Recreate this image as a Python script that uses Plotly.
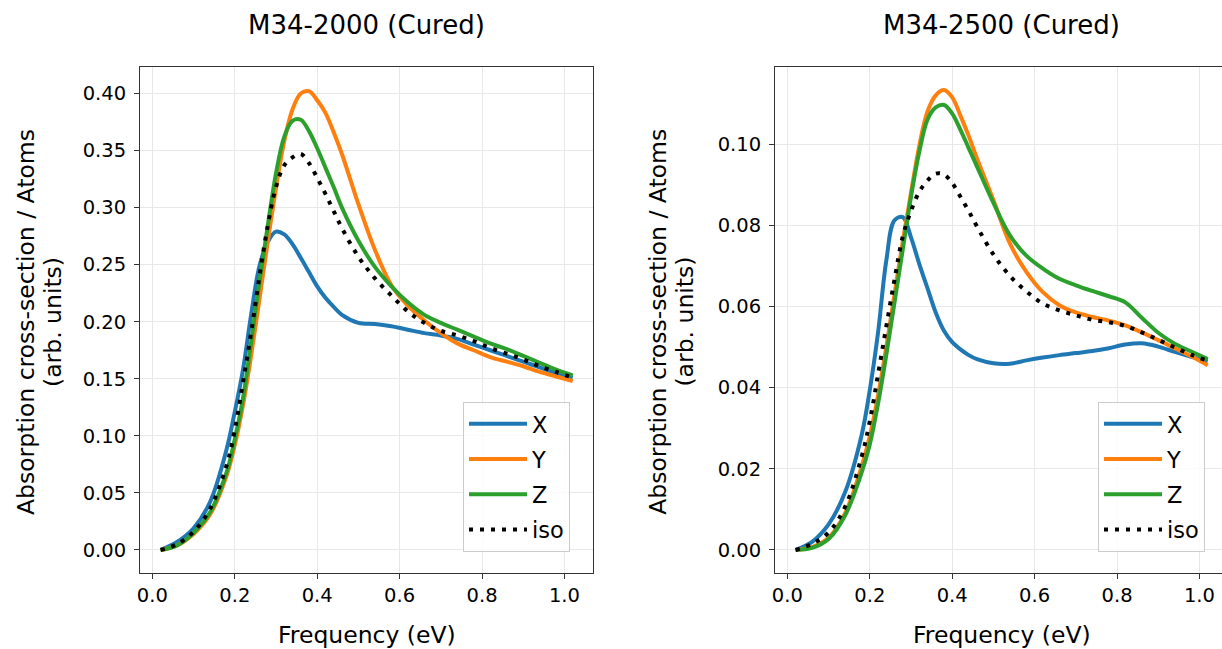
import plotly.graph_objects as go

# ---------------- data ----------------
freq = [0.02, 0.06, 0.10, 0.14, 0.18, 0.20, 0.22, 0.24, 0.26, 0.28, 0.30,
        0.32, 0.34, 0.36, 0.38, 0.40, 0.42, 0.44, 0.46, 0.50, 0.54, 0.58,
        0.62, 0.66, 0.70, 0.74, 0.78, 0.82, 0.86, 0.90, 0.94, 0.98, 1.02]

# M34-2000 (Cured)
m2000_x = [0.000, 0.007, 0.019, 0.042, 0.088, 0.121, 0.158, 0.207, 0.249, 0.270, 0.279,
           0.2765, 0.268, 0.256, 0.2435, 0.231, 0.221, 0.213, 0.206, 0.199, 0.198, 0.196,
           0.193, 0.190, 0.188, 0.185, 0.180, 0.175, 0.170, 0.165, 0.160, 0.155, 0.151]
m2000_y = [0.000, 0.004, 0.014, 0.031, 0.065, 0.092, 0.127, 0.171, 0.220, 0.270, 0.317,
           0.358, 0.386, 0.400, 0.402, 0.394, 0.383, 0.366, 0.347, 0.303, 0.263, 0.232,
           0.214, 0.201, 0.190, 0.181, 0.175, 0.169, 0.165, 0.161, 0.156, 0.152, 0.148]
m2000_z = [0.000, 0.004, 0.015, 0.033, 0.068, 0.097, 0.133, 0.183, 0.235, 0.284, 0.330,
           0.362, 0.376, 0.377, 0.367, 0.352, 0.335, 0.318, 0.300, 0.271, 0.248, 0.231,
           0.217, 0.206, 0.199, 0.193, 0.187, 0.181, 0.176, 0.170, 0.164, 0.158, 0.153]
m2000_iso = [0.000, 0.005, 0.016, 0.036, 0.074, 0.105, 0.147, 0.191, 0.240, 0.284, 0.318,
             0.337, 0.344, 0.347, 0.339, 0.326, 0.312, 0.297, 0.282, 0.257, 0.238, 0.223,
             0.209, 0.199, 0.192, 0.188, 0.183, 0.177, 0.172, 0.167, 0.161, 0.156, 0.151]

# M34-2500 (Cured)
m2500_x = [0.0000, 0.0020, 0.0063, 0.0142, 0.0282, 0.0394, 0.0535, 0.0712, 0.0812, 0.0820, 0.0770,
           0.0705, 0.0645, 0.0585, 0.0540, 0.0512, 0.0494, 0.0480, 0.0470, 0.0460, 0.0459, 0.0467,
           0.0474, 0.0480, 0.0485, 0.0490, 0.0497, 0.0506, 0.0509, 0.0501, 0.0488, 0.0476, 0.0465]
m2500_y = [0.0000, 0.0007, 0.0030, 0.0090, 0.0205, 0.0280, 0.0380, 0.0500, 0.0630, 0.0760, 0.0880,
           0.0995, 0.1080, 0.1120, 0.1133, 0.1115, 0.1070, 0.1020, 0.0965, 0.0862, 0.0755, 0.0685,
           0.0635, 0.0603, 0.0585, 0.0574, 0.0565, 0.0553, 0.0536, 0.0517, 0.0497, 0.0477, 0.0455]
m2500_z = [0.0000, 0.0005, 0.0027, 0.0085, 0.0190, 0.0260, 0.0360, 0.0480, 0.0610, 0.0740, 0.0870,
           0.0980, 0.1060, 0.1090, 0.1096, 0.1075, 0.1035, 0.0990, 0.0945, 0.0855, 0.0775, 0.0725,
           0.0693, 0.0668, 0.0652, 0.0638, 0.0625, 0.0610, 0.0572, 0.0535, 0.0508, 0.0489, 0.0470]
m2500_iso = [0.0000, 0.0015, 0.0043, 0.0106, 0.0229, 0.0317, 0.0432, 0.0550, 0.0666, 0.0772, 0.0835,
             0.0882, 0.0910, 0.0927, 0.0925, 0.0904, 0.0870, 0.0835, 0.0797, 0.0728, 0.0675, 0.0637,
             0.0607, 0.0590, 0.0578, 0.0567, 0.0561, 0.0552, 0.0536, 0.0518, 0.0499, 0.0481, 0.0466]

series_names = ["X", "Y", "Z", "iso"]
panel_titles = ["M34-2000 (Cured)", "M34-2500 (Cured)"]
x_label = "Frequency (eV)"
y_label_lines = ["Absorption cross-section / Atoms", "(arb. units)"]
x_ticks = [0.0, 0.2, 0.4, 0.6, 0.8, 1.0]
y_ticks_left = [0.00, 0.05, 0.10, 0.15, 0.20, 0.25, 0.30, 0.35, 0.40]
y_ticks_right = [0.00, 0.02, 0.04, 0.06, 0.08, 0.10]

# ---------------- styling ----------------
FONT = "DejaVu Sans"
colors = ["#1f77b4", "#ff7f0e", "#2ca02c", "#000000"]
dashes = ["solid", "solid", "solid", "4px,7px"]
LW = 4

fig = go.Figure()

panels = [
    (("x", "y", "legend"), [m2000_x, m2000_y, m2000_z, m2000_iso], "a"),
    (("x2", "y2", "legend2"), [m2500_x, m2500_y, m2500_z, m2500_iso], "b"),
]
for (xa, ya, lg), data, tag in panels:
    for name, vals, col, dash in zip(series_names, data, colors, dashes):
        fig.add_trace(go.Scatter(
            x=freq, y=vals, name=name, mode="lines",
            line=dict(color=col, width=LW, dash=dash, shape="spline", smoothing=1.0),
            xaxis=xa, yaxis=ya, legend=lg, legendgroup=tag + name,
            hoverinfo="skip",
        ))

W, H = 1222, 649
ML, MR, MT, MB = 140, 0, 67, 76
PW = W - ML - MR
PH = H - MT - MB


def px_x(p):
    return (p - ML) / PW


def px_y(p):
    return (H - MB - p) / PH


axis_common = dict(
    showline=True, linecolor="#333333", linewidth=1,
    ticks="outside", ticklen=5, tickwidth=1, tickcolor="#333333",
    showgrid=True, gridcolor="#e8e8e8", gridwidth=1,
    zeroline=False,
    tickfont=dict(family=FONT, size=19.5, color="black"),
)

left_dom = [0.0, px_x(593.3)]
right_dom = [px_x(775.0), 1.0]
unit_px = (593.3 - 140.0) / 1.10   # pixels per eV
right_max = -0.03 + (W - 775.0) / unit_px

fig.update_layout(
    width=W, height=H,
    margin=dict(l=ML, r=MR, t=MT, b=MB),
    paper_bgcolor="white", plot_bgcolor="white",
    font=dict(family=FONT, color="black"),
    showlegend=True,
    xaxis=dict(domain=left_dom, range=[-0.03, 1.07], tickvals=x_ticks,
               tickformat=".1f", mirror=True, anchor="y", **axis_common),
    yaxis=dict(range=[-0.0202, 0.4232], tickvals=y_ticks_left, tickformat=".2f",
               mirror=True, anchor="x", ticklabelstandoff=4, **axis_common),
    xaxis2=dict(domain=right_dom, range=[-0.03, right_max], tickvals=x_ticks,
                tickformat=".1f", mirror=True, anchor="y2", **axis_common),
    yaxis2=dict(range=[-0.00567, 0.11897], tickvals=y_ticks_right, tickformat=".2f",
                mirror=False, anchor="x2", ticklabelstandoff=4, **axis_common),
)

legend_common = dict(
    yanchor="bottom", xanchor="right", y=px_y(551.7),
    bgcolor="rgba(255,255,255,0.8)", bordercolor="#cccccc", borderwidth=1,
    font=dict(family=FONT, size=22.5, color="black"),
    tracegroupgap=3, itemwidth=58, traceorder="grouped",
)
fig.update_layout(
    legend=dict(x=px_x(570.0), **legend_common),
    legend2=dict(x=px_x(1205.0), **legend_common),
)

annotations = []
# panel titles
for title, cx in zip(panel_titles, [366.7, 1001.5]):
    annotations.append(dict(text=title, x=px_x(cx), y=px_y(25.5), xref="paper", yref="paper",
                            xanchor="center", yanchor="middle", showarrow=False,
                            font=dict(family=FONT, size=26, color="black")))
# x labels
for cx in [366.7, 1001.5]:
    annotations.append(dict(text=x_label, x=px_x(cx), y=px_y(635.0), xref="paper", yref="paper",
                            xanchor="center", yanchor="middle", showarrow=False,
                            font=dict(family=FONT, size=23.5, color="black")))
# y labels (two lines each)
for cx_pair in [(26.0, 53.0), (657.8, 684.6)]:
    for line, cx in zip(y_label_lines, cx_pair):
        annotations.append(dict(text=line, x=px_x(cx), y=px_y(322.0), xref="paper", yref="paper",
                                xanchor="center", yanchor="middle", showarrow=False, textangle=-90,
                                font=dict(family=FONT, size=23.5, color="black")))
fig.update_layout(annotations=annotations)

fig.write_html("out.html", config={"displayModeBar": False})
